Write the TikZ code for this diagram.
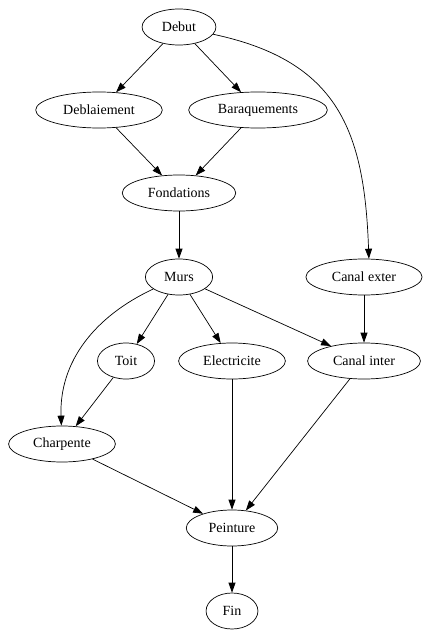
\documentclass[tikz,border=0pt]{standalone}
\usepackage{fontspec}
\setmainfont{Liberation Serif}
\usetikzlibrary{arrows.meta, shapes.geometric}

\begin{document}
\begin{tikzpicture}[
    x=1pt, y=-1pt, line width=0.7pt,
    every node/.style={ellipse, draw, minimum height=36pt, inner xsep=9pt, font=\fontsize{14pt}{16pt}\selectfont},
    arrow/.style={-{Triangle[length=10pt, width=7pt]}}
]
\useasboundingbox (0,0) rectangle (425,634);
\node (debut) at (179,27) {Debut};
\node (deblai) at (99,110) {Deblaiement};
\node (baraq) at (258,110) {Baraquements};
\node (fond) at (179,193) {Fondations};
\node (murs) at (179,277) {Murs};
\node (canalext) at (364,277) {Canal exter};
\node (toit) at (126,361) {Toit};
\node (elec) at (232,361) {Electricite};
\node (canalint) at (364,361) {Canal inter};
\node (charp) at (62,444) {Charpente};
\node (peint) at (232,528) {Peinture};
\node (fin) at (232,611) {Fin};
\draw[arrow] (debut) to[out=-12, in=92, looseness=1.2] (canalext.75);
\draw[arrow] (debut) -- (deblai);
\draw[arrow] (debut) -- (baraq);
\draw[arrow] (deblai) -- (fond);
\draw[arrow] (baraq) -- (fond);
\draw[arrow] (fond) -- (murs);
\draw[arrow] (murs) -- (toit);
\draw[arrow] (murs) -- (elec);
\draw[arrow] (murs) -- (canalint);
\draw[arrow] (murs) to[out=205, in=92] (charp);
\draw[arrow] (canalext) -- (canalint);
\draw[arrow] (toit) -- (charp);
\draw[arrow] (charp) -- (peint);
\draw[arrow] (elec) -- (peint);
\draw[arrow] (canalint) -- (peint);
\draw[arrow] (peint) -- (fin);
\end{tikzpicture}
\end{document}
